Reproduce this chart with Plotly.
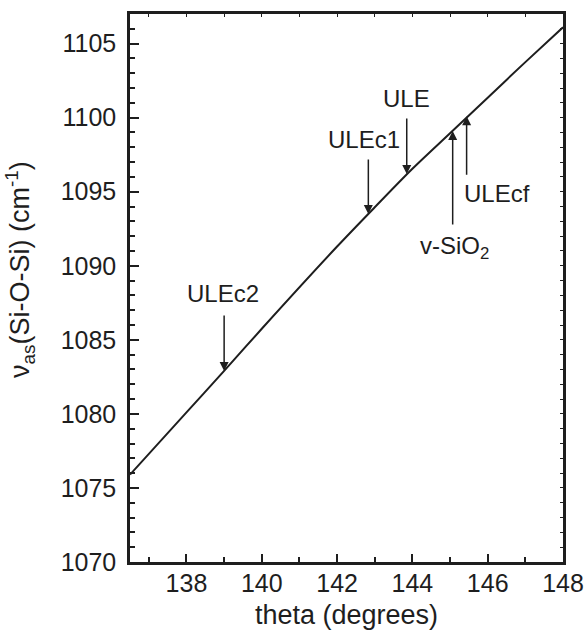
import plotly.graph_objects as go

# ---- data ----
theta_line = [136.5, 138.0, 139.0, 140.0, 142.0, 143.0, 144.0, 145.0, 146.0, 147.0, 148.0]
nu_line = [1075.9, 1080.1, 1082.9, 1085.75, 1091.3, 1093.95, 1096.55, 1098.95, 1101.35, 1103.75, 1106.1]

sample_names = ["ULEc2", "ULEc1", "ULE", "v-SiO<sub>2</sub>", "ULEcf"]
sample_theta = [139.0, 142.83, 143.85, 145.07, 145.44]
sample_nu = [1082.9, 1093.5, 1096.2, 1099.1, 1100.1]

x_ticks = [138, 140, 142, 144, 146, 148]
y_ticks = [1070, 1075, 1080, 1085, 1090, 1095, 1100, 1105]

x_title = "theta (degrees)"
y_title = "ν<sub>as</sub>(Si-O-Si) (cm<sup>-1</sup>)"

# ---- styling / placement (pixels) ----
INK = "#1e1e1e"
FONT = "Liberation Sans, Arial, Helvetica, sans-serif"
arrow_tail = [-57, -56, -57, 95, 60]           # ay offset of tail from tip (px, + down)
label_shift = [(-1, 77), (-4, 74), (0, 75), (2, -116), (-5, -77)]
label_anchor = ["center", "center", "center", "center", "left"]

fig = go.Figure()
fig.add_trace(go.Scatter(x=theta_line, y=nu_line, mode="lines",
                         line=dict(color=INK, width=2, shape="spline", smoothing=0.8),
                         showlegend=False, hoverinfo="skip"))
# helper trace on the mirrored (top/right) axes so they get drawn
fig.add_trace(go.Scatter(x=theta_line, y=nu_line, mode="lines", xaxis="x2", yaxis="y2",
                         line=dict(color="rgba(0,0,0,0)", width=0), showlegend=False,
                         hoverinfo="skip"))

annotations = []
for i, name in enumerate(sample_names):
    annotations.append(dict(
        x=sample_theta[i], y=sample_nu[i], xref="x", yref="y",
        ax=0, ay=arrow_tail[i], axref="pixel", ayref="pixel",
        text="", showarrow=True, arrowhead=2, arrowsize=1.2, arrowwidth=1.5,
        arrowcolor=INK, standoff=0))
    xs, ys = label_shift[i]
    annotations.append(dict(
        x=sample_theta[i], y=sample_nu[i], xref="x", yref="y",
        text=name, showarrow=False, xanchor=label_anchor[i], yanchor="middle",
        xshift=xs, yshift=ys, font=dict(family=FONT, size=24, color=INK)))

# y-axis title (placed as rotated text so it can sit slightly above centre, as in the reference)
annotations.append(dict(
    x=0, y=0.5, xref="paper", yref="paper", xanchor="center", yanchor="middle",
    xshift=-110, yshift=18, textangle=-90, showarrow=False, text=y_title,
    font=dict(family=FONT, size=27, color=INK)))

axis_common = dict(showgrid=False, zeroline=False, showline=True, linewidth=2.5,
                   linecolor=INK, ticks="inside", tickwidth=2, tickcolor=INK,
                   automargin=False,
                   tickfont=dict(family=FONT, size=25, color=INK))

fig.update_layout(
    width=587, height=638,
    margin=dict(l=130, r=24, t=14, b=76),
    paper_bgcolor="white", plot_bgcolor="white",
    font=dict(family=FONT, color=INK),
    xaxis=dict(range=[136.5, 148], tickvals=x_ticks, ticklen=8,
               minor=dict(dtick=1, tick0=137, ticklen=5, tickwidth=2, tickcolor=INK, ticks="inside"),
               title=dict(text=x_title, font=dict(family=FONT, size=27, color=INK), standoff=10),
               ticklabelstandoff=-3,
               mirror=True, **axis_common),
    yaxis=dict(range=[1070, 1107], tickvals=y_ticks, ticklen=9,
               minor=dict(dtick=1, tick0=1070, ticklen=5, tickwidth=2, tickcolor=INK, ticks="inside"),
               ticklabelstandoff=6,
               mirror=True, **axis_common),
    xaxis2=dict(overlaying="x", matches="x", side="top", anchor="y", showgrid=False,
                zeroline=False, showline=False, ticks="inside", ticklen=3, tickwidth=1.2,
                tickcolor=INK, dtick=1, tick0=137, showticklabels=False, range=[136.5, 148]),
    yaxis2=dict(overlaying="y", matches="y", side="right", anchor="x", showgrid=False,
                zeroline=False, showline=False, ticks="inside", ticklen=3, tickwidth=1.2,
                tickcolor=INK, dtick=1, tick0=1070, showticklabels=False, range=[1070, 1107]),
    annotations=annotations,
    showlegend=False,
)

fig.write_html("out.html", config={"displayModeBar": False},
               post_script="document.body.style.margin='0';")
